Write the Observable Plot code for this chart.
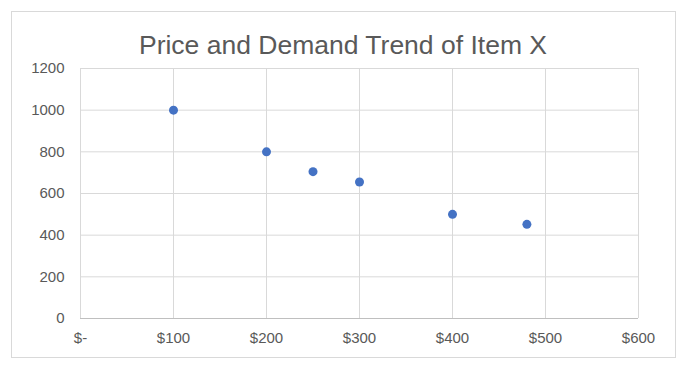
<!DOCTYPE html>
<html><head><meta charset="utf-8">
<script src="https://cdn.jsdelivr.net/npm/d3@7"></script>
<script src="https://cdn.jsdelivr.net/npm/@observablehq/plot@0.6"></script>
<style>
body{margin:0;background:#fff;}
#wrap{position:relative;width:686px;height:368px;}
#frame{position:absolute;left:11px;top:11px;width:663px;height:345px;border:1px solid #d9d9d9;}
#title{position:absolute;left:0;width:686px;top:29px;text-align:center;font-family:"Liberation Sans",Arial,sans-serif;font-size:26.5px;line-height:32px;color:#595959;}
#chart{position:absolute;left:0;top:0;}
</style></head><body>
<div id="wrap"><div id="frame"></div><div id="title">Price and Demand Trend of Item X</div><div id="chart"></div></div>
<script>
const prices = [100, 200, 250, 300, 400, 480];
const demand = [1000, 800, 705, 655, 500, 452];
const xTicks = [0, 100, 200, 300, 400, 500, 600];
const yTicks = [0, 200, 400, 600, 800, 1000, 1200];
const data = prices.map((p, i) => ({price: p, demand: demand[i]}));
const fmt = v => v === 0 ? "$-" : "$" + v;
const chart = Plot.plot({
  width: 686, height: 368,
  marginLeft: 80, marginRight: 48, marginTop: 68, marginBottom: 50,
  style: {fontFamily: "Liberation Sans, Arial, sans-serif", fontSize: "15px", color: "#595959", background: "transparent"},
  x: {domain: [0, 600]},
  y: {domain: [0, 1200]},
  marks: [
    Plot.gridX(xTicks, {stroke: "#d9d9d9", strokeOpacity: 1}),
    Plot.gridY(yTicks.filter(d => d > 0), {stroke: "#d9d9d9", strokeOpacity: 1}),
    Plot.ruleY([0], {stroke: "#bfbfbf"}),
    Plot.axisX(xTicks, {tickSize: 0, tickPadding: 14, tickFormat: fmt, label: null, fill: "#595959"}),
    Plot.axisY(yTicks, {tickSize: 0, tickPadding: 16, tickFormat: d => String(d), label: null, fill: "#595959"}),
    Plot.dot(data, {x: "price", y: "demand", r: 4.5, fill: "#4472c4", stroke: null})
  ]
});
document.getElementById("chart").appendChild(chart);
</script>
</body></html>
